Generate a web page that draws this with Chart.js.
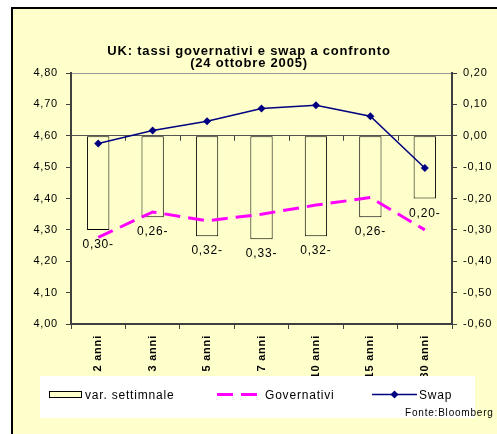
<!DOCTYPE html>
<html>
<head>
<meta charset="utf-8">
<script src="https://cdn.jsdelivr.net/npm/chart.js@4.4.1/dist/chart.umd.min.js"></script>
<style>
  html, body { margin: 0; padding: 0; background: #ffffff; }
  canvas { display: block; }
</style>
</head>
<body>
<canvas id="c" width="497" height="434"></canvas>
<script>
// Maturities on the category axis
const categories = ['2 anni', '3 anni', '5 anni', '7 anni', '10 anni', '15 anni', '30 anni'];
// Weekly change (right axis), shown as bars
const weeklyChange = [-0.30, -0.26, -0.32, -0.33, -0.32, -0.26, -0.20];
// Government bond yields (left axis)
const govYields = [4.276, 4.357, 4.329, 4.350, 4.379, 4.403, 4.300];
// Swap rates (left axis)
const swapRates = [4.575, 4.617, 4.646, 4.687, 4.697, 4.662, 4.497];
// Axis tick values
const leftTickValues = [4.00, 4.10, 4.20, 4.30, 4.40, 4.50, 4.60, 4.70, 4.80];
const rightTickValues = [-0.60, -0.50, -0.40, -0.30, -0.20, -0.10, 0.00, 0.10, 0.20];

const FONT = '"Liberation Sans", Arial, Helvetica, sans-serif';
const BG = '#FFFFCC';
const AXIS = '#404040';
const SPACING = '0.8px';

const fmt = v => (Math.abs(v) < 1e-9 ? 0 : v).toFixed(2).replace('.', ',');
// Excel-style negative format: magnitude followed by a trailing minus
const fmtTrail = v => Math.abs(v).toFixed(2).replace('.', ',') + (v < 0 ? '-' : '');

const framePlugin = {
  id: 'frame',
  beforeUpdate(chart) { chart.ctx.letterSpacing = SPACING; },
  beforeDraw(chart) {
    const ctx = chart.ctx;
    ctx.save();
    ctx.letterSpacing = SPACING;
    ctx.fillStyle = '#ffffff';
    ctx.fillRect(0, 0, chart.width, chart.height);
    ctx.fillStyle = '#000000';
    ctx.fillRect(11, 7, chart.width, 2);
    ctx.fillRect(11, 7, 2, chart.height);
    ctx.fillStyle = BG;
    ctx.fillRect(13, 9, chart.width, chart.height);
    ctx.restore();
    ctx.letterSpacing = SPACING;
  },
  beforeDatasetsDraw(chart) {
    // small category ticks hanging from the zero line
    const ctx = chart.ctx;
    const x = chart.scales.x;
    const y0 = chart.scales.y1.getPixelForValue(0);
    const n = categories.length;
    const w = (x.right - x.left) / n;
    ctx.save();
    ctx.strokeStyle = AXIS;
    ctx.lineWidth = 1;
    ctx.beginPath();
    for (let i = 1; i < n; i++) {
      const px = Math.round(x.left + i * w) + 0.5;
      ctx.moveTo(px, y0);
      ctx.lineTo(px, y0 + 5);
    }
    ctx.stroke();
    ctx.restore();
  },
  afterDatasetsDraw(chart) {
    // value labels under each bar
    const ctx = chart.ctx;
    const meta = chart.getDatasetMeta(2);
    ctx.save();
    ctx.letterSpacing = SPACING;
    ctx.font = '12px ' + FONT;
    ctx.fillStyle = '#000000';
    ctx.textAlign = 'center';
    ctx.textBaseline = 'alphabetic';
    meta.data.forEach((bar, i) => {
      ctx.fillText(fmtTrail(weeklyChange[i]), bar.x, bar.y + 18);
    });
    ctx.restore();
  },
  afterDraw(chart) {
    const ctx = chart.ctx;
    ctx.save();
    ctx.letterSpacing = SPACING;
    // title
    ctx.fillStyle = '#000000';
    ctx.textAlign = 'center';
    ctx.textBaseline = 'alphabetic';
    ctx.font = 'bold 13px ' + FONT;
    ctx.fillText('UK: tassi governativi e swap a confronto', 249, 55);
    ctx.fillText('(24 ottobre 2005)', 249, 67);

    // legend box
    ctx.fillStyle = '#ffffff';
    ctx.fillRect(40, 376, 435, 42);
    const ds = chart.data.datasets;
    const cy = 394.5;
    ctx.font = '12px ' + FONT;
    ctx.textAlign = 'left';

    // bar swatch
    ctx.fillStyle = ds[2].backgroundColor;
    ctx.fillRect(49, 391, 33, 7);
    ctx.strokeStyle = ds[2].borderColor;
    ctx.lineWidth = 1;
    ctx.strokeRect(49.5, 391.5, 32, 6);
    ctx.fillStyle = '#000000';
    ctx.fillText(ds[2].label, 85, 399);

    // dashed line swatch
    ctx.strokeStyle = ds[1].borderColor;
    ctx.lineWidth = ds[1].borderWidth;
    ctx.setLineDash(ds[1].borderDash);
    ctx.beginPath();
    ctx.moveTo(217, cy);
    ctx.lineTo(257, cy);
    ctx.stroke();
    ctx.setLineDash([]);
    ctx.fillStyle = '#000000';
    ctx.fillText(ds[1].label, 265, 399);

    // line with marker swatch
    ctx.strokeStyle = ds[0].borderColor;
    ctx.lineWidth = ds[0].borderWidth;
    ctx.beginPath();
    ctx.moveTo(372, cy);
    ctx.lineTo(417, cy);
    ctx.stroke();
    ctx.fillStyle = ds[0].backgroundColor;
    ctx.beginPath();
    ctx.moveTo(394.5, cy - 4);
    ctx.lineTo(398.5, cy);
    ctx.lineTo(394.5, cy + 4);
    ctx.lineTo(390.5, cy);
    ctx.closePath();
    ctx.fill();
    ctx.fillStyle = '#000000';
    ctx.fillText(ds[0].label, 419, 399);

    // source note
    ctx.font = '10px ' + FONT;
    ctx.fillText('Fonte:Bloomberg', 405, 416);
    ctx.restore();
  }
};

const chart = new Chart(document.getElementById('c'), {
  type: 'bar',
  data: {
    labels: categories,
    datasets: [
      {
        type: 'line',
        label: 'Swap',
        data: swapRates,
        yAxisID: 'y',
        borderColor: '#000080',
        backgroundColor: '#000080',
        borderWidth: 1.5,
        pointStyle: 'rectRot',
        pointRadius: 4,
        pointBorderWidth: 0,
        tension: 0,
        order: 0
      },
      {
        type: 'line',
        label: 'Governativi',
        data: govYields,
        yAxisID: 'y',
        borderColor: '#FF00FF',
        borderWidth: 3,
        borderDash: [16, 8],
        pointRadius: 0,
        tension: 0,
        order: 1
      },
      {
        type: 'bar',
        label: 'var. settimnale',
        data: weeklyChange,
        yAxisID: 'y1',
        backgroundColor: BG,
        borderColor: '#000000',
        borderWidth: 1,
        borderSkipped: false,
        barPercentage: 0.41,
        categoryPercentage: 1,
        order: 2
      }
    ]
  },
  options: {
    responsive: false,
    animation: false,
    events: [],
    layout: { padding: { top: 73, left: 0, right: 0, bottom: 0 } },
    plugins: {
      legend: { display: false },
      title: { display: false },
      tooltip: { enabled: false }
    },
    scales: {
      x: {
        type: 'category',
        offset: true,
        grid: {
          offset: true,
          drawOnChartArea: false,
          color: 'rgba(0,0,0,0)',
          tickColor: AXIS,
          tickLength: 5
        },
        border: { color: AXIS, width: 2 },
        ticks: {
          autoSkip: false,
          minRotation: 90,
          maxRotation: 90,
          padding: 6,
          color: '#000000',
          font: { family: FONT, size: 11, weight: 'bold' }
        },
        afterFit(scale) { scale.height = 110; }
      },
      y: {
        position: 'left',
        min: 4.0,
        max: 4.8,
        afterBuildTicks(scale) { scale.ticks = leftTickValues.map(v => ({ value: v })); },
        grid: {
          color: c => (c.tick && Math.abs(c.tick.value - 4.8) < 1e-6) ? '#999999' : 'rgba(0,0,0,0)',
          tickColor: AXIS,
          tickLength: 5
        },
        border: { color: AXIS, width: 2 },
        ticks: {
          padding: 8,
          color: '#000000',
          font: { family: FONT, size: 11 },
          callback: v => fmt(v)
        },
        afterFit(scale) { scale.width = 71; }
      },
      y1: {
        position: 'right',
        min: -0.6,
        max: 0.2,
        afterBuildTicks(scale) { scale.ticks = rightTickValues.map(v => ({ value: v })); },
        grid: {
          color: c => (c.tick && Math.abs(c.tick.value) < 1e-6) ? '#555555' : 'rgba(0,0,0,0)',
          tickColor: AXIS,
          tickLength: 5
        },
        border: { color: AXIS, width: 2 },
        ticks: {
          padding: 6,
          color: '#000000',
          font: { family: FONT, size: 11 },
          callback: v => fmt(v)
        },
        afterFit(scale) { scale.width = 45; }
      }
    }
  },
  plugins: [framePlugin]
});
</script>
</body>
</html>
